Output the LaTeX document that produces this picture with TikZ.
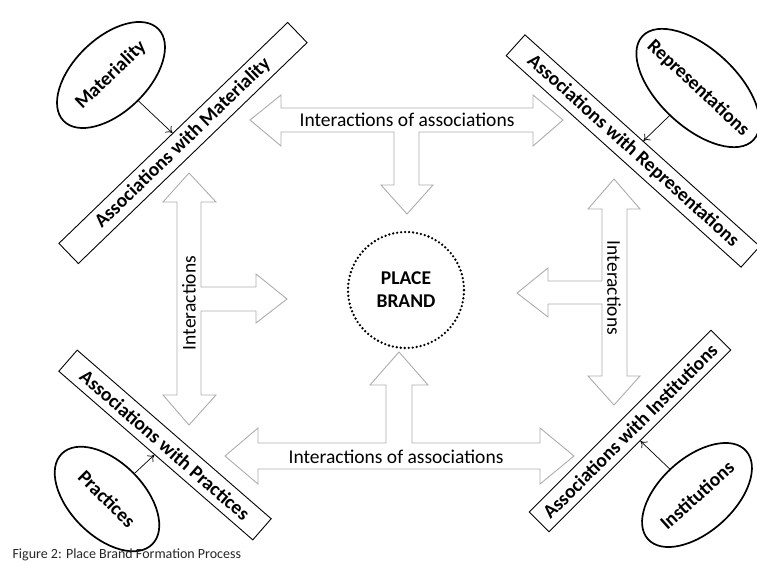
\documentclass[tikz,border=0pt]{standalone}
\usepackage{fontspec}
\setmainfont{Carlito}
\usepackage{tikz}
\usetikzlibrary{shapes, arrows, arrows.meta, positioning, calc}

\tikzset{
	>={To[length=6pt, width=9pt]},
	assoc/.style={draw, line width=0.9pt, minimum height=28, inner sep=2pt, font=\bfseries\fontsize{19.5}{21}\selectfont},
	source/.style={draw, ellipse, line width=1.7pt, inner sep=0pt, font=\bfseries\fontsize{19.5}{21}\selectfont},
	flow/.style={draw=gray!65, line width=0.9pt},
	flowtext/.style={font=\fontsize{19.5}{21}\selectfont},
}

\begin{document}
\begin{tikzpicture}[x=1pt, y=-1pt]
		\useasboundingbox (0,0) rectangle (757,567);

		\node[assoc, minimum width=318, rotate=44] (Assoc Materiality) at (183,143) {Associations with Materiality};
		\node[assoc, minimum width=316, rotate=-42] (Assoc Representations) at (633,151) {Associations with Representations};
		\node[assoc, minimum width=257, rotate=-41] (Assoc Practices) at (165,445) {Associations with Practices};
		\node[assoc, minimum width=257, rotate=45] (Assoc Institutions) at (630,431) {Associations with Institutions};

		\node[source, minimum width=132, minimum height=74, inner xsep=-6pt, rotate=44] (Materiality) at (111,75) {Materiality};
		\node[source, minimum width=152, minimum height=78, inner xsep=-20pt, rotate=-43] (Representations) at (698,88) {Representations};
		\node[source, minimum width=128, minimum height=74, rotate=-45] (Practices) at (107,499) {Practices};
		\node[source, minimum width=132, minimum height=74, inner xsep=-6pt, rotate=42] (Institutions) at (697,495) {Institutions};

		\draw[->, line width=0.7pt] (Materiality) to (Assoc Materiality);
		\draw[->, line width=0.7pt] (Representations) to (Assoc Representations);
		\draw[->, line width=0.7pt] (Practices) to (Assoc Practices);
		\draw[->, line width=0.7pt] (Institutions) to (Assoc Institutions);

		\node[draw, circle, line width=2.6pt, line cap=round, dash pattern=on 0pt off 4pt, minimum size=116, align=center, font=\bfseries\fontsize{19.5}{23}\selectfont] (Place Brand) at (406,290) {PLACE\\
			BRAND};

		% block arrows
		\draw[flow] (250,120) -- (281,95) -- (281,108) -- (533,108) -- (533,95) -- (563,120) -- (533,146) -- (533,132) -- (419,132) -- (419,185) -- (433,185) -- (407,214) -- (381,185) -- (394,185) -- (394,132) -- (281,132) -- (281,146) -- cycle;
		\draw[flow] (225,456) -- (258,428) -- (258,443) -- (386,443) -- (386,385) -- (370,385) -- (399,352) -- (428,385) -- (412,385) -- (412,443) -- (540,443) -- (540,428) -- (574,456) -- (540,484) -- (540,469) -- (258,469) -- (258,484) -- cycle;
		\draw[flow] (189,173) -- (216,202) -- (201,202) -- (201,287) -- (256,287) -- (256,274) -- (287,299) -- (256,323) -- (256,311) -- (201,311) -- (201,395) -- (216,395) -- (189,425) -- (163,395) -- (177,395) -- (177,202) -- (163,202) -- cycle;
		\draw[flow] (614,179) -- (640,209) -- (627,209) -- (627,376) -- (640,376) -- (614,405) -- (588,376) -- (602,376) -- (602,304) -- (548,304) -- (548,317) -- (517,293) -- (548,268) -- (548,281) -- (602,281) -- (602,209) -- (588,209) -- cycle;

		\node[flowtext] (Top Interactions) at (407,120) {Interactions of associations};
		\node[flowtext] (Bottom Interactions) at (396,457) {Interactions of associations};
		\node[flowtext, rotate=90] (Left Interactions) at (189,303) {Interactions};
		\node[flowtext, rotate=-90] (Right Interactions) at (614,288) {Interactions};

		\node[anchor=west, text=black!85, font=\fontsize{14}{16}\selectfont] (Caption) at (9,555) {Figure 2: Place Brand Formation Process};
	\end{tikzpicture}
\end{document}
